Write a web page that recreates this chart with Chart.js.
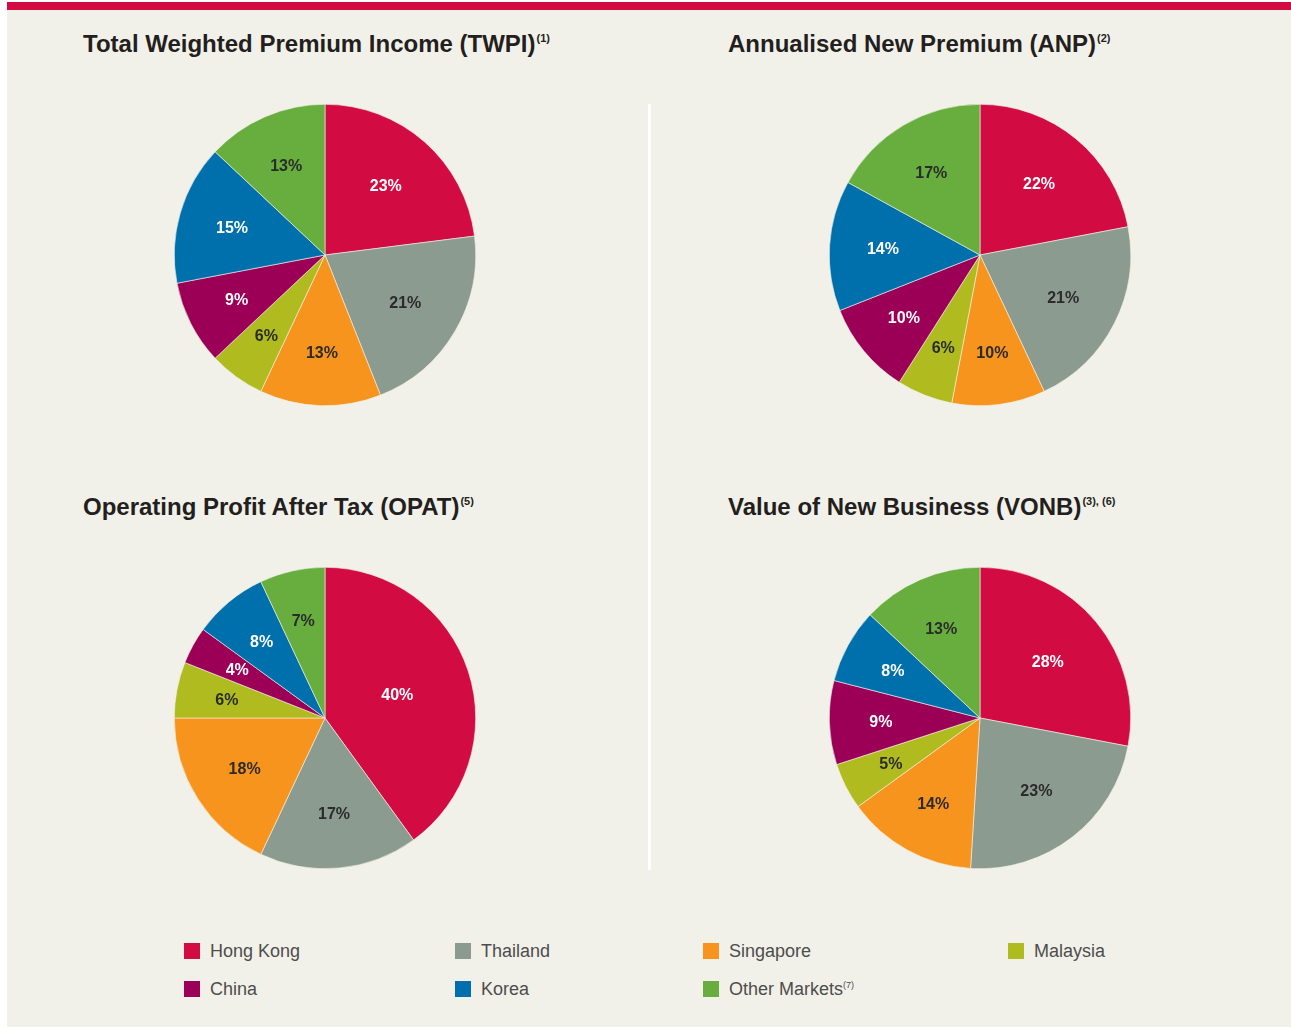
<!DOCTYPE html>
<html>
<head>
<meta charset="utf-8">
<script src="https://cdn.jsdelivr.net/npm/chart.js@4/dist/chart.umd.min.js"></script>
<style>
    html, body { margin: 0; padding: 0; background: #ffffff; }
    #page {
        position: relative;
        width: 1291px;
        height: 1027px;
        overflow: hidden;
        font-family: "Liberation Sans", Arial, sans-serif;
    }
    #panel {
        position: absolute;
        left: 7px; top: 2px; right: 0; bottom: 0;
        background: #f2f1e9;
    }
    #topbar {
        position: absolute;
        left: 7px; top: 2px; right: 0; height: 8px;
        background: #d20c43;
    }
    #divider {
        position: absolute;
        left: 648px; top: 104px; width: 3px; height: 766px;
        background: #ffffff;
    }
    .title {
        position: absolute;
        font-size: 24px;
        line-height: 24px;
        font-weight: bold;
        color: #231f20;
        white-space: nowrap;
    }
    .title sup {
        font-size: 11px;
        vertical-align: 10px;
        line-height: 0;
        font-weight: bold;
        margin-left: 1px;
    }
    .legend-item sup {
        font-size: 9px;
        vertical-align: 7px;
        line-height: 0;
    }
    canvas.pie { position: absolute; }
    .legend-item {
        position: absolute;
        font-size: 18px;
        line-height: 18px;
        color: #4d4d4d;
        white-space: nowrap;
    }
    .legend-item .swatch {
        position: absolute;
        left: -26px; top: 1px;
        width: 16px; height: 16px;
    }
</style>
</head>
<body>
<div id="page">
    <div id="panel"></div>
    <div id="topbar"></div>
    <div id="divider"></div>
</div>
<script>
// Dữ liệu (phần trăm theo thị trường)
const categories = ['Hong Kong', 'Thailand', 'Singapore', 'Malaysia', 'China', 'Korea', 'Other Markets'];
const categoryNotes = ['', '', '', '', '', '', '(7)'];
const twpiValues = [23, 21, 13, 6, 9, 15, 13];
const anpValues = [22, 21, 10, 6, 10, 14, 17];
const opatValues = [40, 17, 18, 6, 4, 8, 7];
const vonbValues = [28, 23, 14, 5, 9, 8, 13];
const chartTitles = [
    'Total Weighted Premium Income (TWPI)',
    'Annualised New Premium (ANP)',
    'Operating Profit After Tax (OPAT)',
    'Value of New Business (VONB)'
];
const titleNotes = ['(1)', '(2)', '(5)', '(3), (6)'];

// Màu sắc
const sliceColors = ['#d20c43', '#8c9b8f', '#f7941d', '#afbb1e', '#9b0056', '#0070ad', '#67ae3e'];
const labelColors = ['#ffffff', '#2b2b2b', '#2b2b2b', '#2b2b2b', '#ffffff', '#ffffff', '#2b2b2b'];

const page = document.getElementById('page');

// Plugin vẽ nhãn % tại trọng tâm mỗi lát
const sliceLabels = {
    id: 'sliceLabels',
    afterDatasetsDraw(chart) {
        const ctx = chart.ctx;
        const meta = chart.getDatasetMeta(0);
        const values = chart.data.datasets[0].data;
        ctx.save();
        ctx.font = 'bold 16px "Liberation Sans", Arial, sans-serif';
        ctx.textAlign = 'center';
        ctx.textBaseline = 'middle';
        meta.data.forEach(function(arc, i) {
            const p = arc.getProps(['x', 'y', 'startAngle', 'endAngle', 'outerRadius'], true);
            const half = (p.endAngle - p.startAngle) / 2;
            const mid = p.startAngle + half;
            const d = 2 * p.outerRadius * Math.sin(half) / (3 * half);
            ctx.fillStyle = labelColors[i];
            ctx.fillText(values[i] + '%', p.x + Math.cos(mid) * d, p.y + Math.sin(mid) * d + 1);
        });
        ctx.restore();
    }
};

function addTitle(text, note, left, top) {
    const el = document.createElement('div');
    el.className = 'title';
    el.style.left = left + 'px';
    el.style.top = top + 'px';
    el.innerHTML = text + '<sup>' + note + '</sup>';
    page.appendChild(el);
}

function addPie(values, cx, cy) {
    const size = 302;
    const canvas = document.createElement('canvas');
    canvas.className = 'pie';
    canvas.width = size;
    canvas.height = size;
    canvas.style.left = (cx - size / 2) + 'px';
    canvas.style.top = (cy - size / 2) + 'px';
    page.appendChild(canvas);

    new Chart(canvas, {
        type: 'pie',
        data: {
            labels: categories,
            datasets: [{
                data: values,
                backgroundColor: sliceColors,
                borderColor: '#f2f1e9',
                borderWidth: 0.6
            }]
        },
        options: {
            responsive: false,
            animation: false,
            devicePixelRatio: 1,
            layout: { padding: 0 },
            plugins: {
                legend: { display: false },
                tooltip: { enabled: false }
            }
        },
        plugins: [sliceLabels]
    });
}

const allValues = [twpiValues, anpValues, opatValues, vonbValues];
const titlePos = [[83, 32], [728, 32], [83, 495], [728, 495]];
const pieCenters = [[325, 255], [980, 255], [325, 718], [980, 718]];

allValues.forEach(function(values, i) {
    addTitle(chartTitles[i], titleNotes[i], titlePos[i][0], titlePos[i][1]);
    addPie(values, pieCenters[i][0], pieCenters[i][1]);
});

// Chú thích chung
const legendCols = [210, 481, 729, 1034];
const legendRows = [942, 980];
categories.forEach(function(name, i) {
    const el = document.createElement('div');
    el.className = 'legend-item';
    el.style.left = legendCols[i % 4] + 'px';
    el.style.top = legendRows[Math.floor(i / 4)] + 'px';
    el.innerHTML = '<span class="swatch" style="background:' + sliceColors[i] + '"></span>' +
        name + (categoryNotes[i] ? '<sup>' + categoryNotes[i] + '</sup>' : '');
    page.appendChild(el);
});
</script>
</body>
</html>
